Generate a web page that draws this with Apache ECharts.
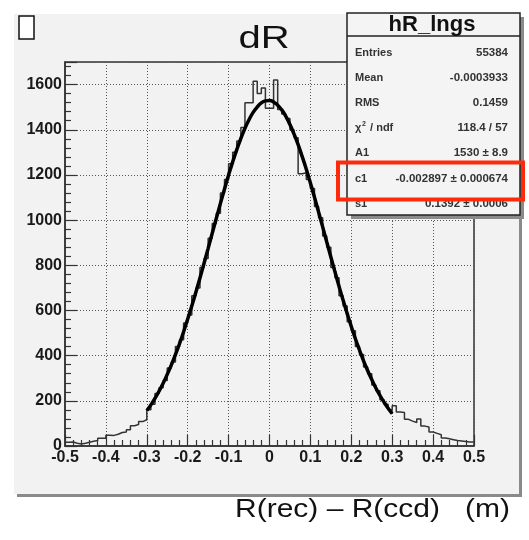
<!DOCTYPE html>
<html><head><meta charset="utf-8">
<script src="https://cdn.jsdelivr.net/npm/echarts@6/dist/echarts.min.js"></script>
<style>html,body{margin:0;padding:0;background:#fff}#c{width:529px;height:540px}</style>
</head><body><div id="c"></div>
<script>
// histogram: 100 bins of width 0.01 from -0.5 to 0.5
const histStart = -0.5;
const binWidth = 0.01;
const counts = [
  17,18,12,9,12,17,21,24,34,34,48,47,52,60,62,72,90,95,108,116,
  160,185,232,258,290,345,372,440,470,545,580,665,700,790,830,920,985,1030,1120,1180,1250,1300,1350,1410,
  1520,1520,1615,1560,1585,1495,1495,1620,1490,1470,1450,1400,1365,
  1205,1210,1180,1140,1060,1010,930,880,790,745,665,620,550,510,440,405,350,320,270,245,205,185,160,
  178,150,148,118,110,104,120,88,84,62,56,50,35,32,28,24,22,20,18,18
];
// gaussian fit curve, read at x = -0.30, -0.29, ... 0.30
const fitStart = -0.3;
const fitStep = 0.01;
const fitY = [157,182,211,243,278,317,359,404,453,506,562,620,681,744,809,875,942,1008,1074,1138,
  1200,1258,1312,1362,1407,1445,1477,1501,1519,1528,1530,1523,1509,1488,1459,1423,1381,1334,1281,1225,
  1164,1101,1036,970,903,837,771,707,645,586,529,475,425,377,334,294,257,224,194,167,143];
const xTickLabels = ['-0.5','-0.4','-0.3','-0.2','-0.1','0','0.1','0.2','0.3','0.4','0.5'];
const yTickLabels = ['0','200','400','600','800','1000','1200','1400','1600'];
const statLabels = ['Entries','Mean','RMS','χ² / ndf','A1','c1','s1'];
const statValues = ['55384','-0.0003933','0.1459','118.4 / 57','1530 ± 8.9','-0.002897 ± 0.000674','0.1392 ± 0.0006'];

const histData = counts.map((v,i)=>[histStart + i*binWidth, v]);
histData.push([histStart + counts.length*binWidth, counts[counts.length-1]]);
const fitData = fitY.map((v,i)=>[fitStart + i*fitStep, v]);

const chart = echarts.init(document.getElementById('c'));
const FONT = '"Liberation Sans", Arial, sans-serif';
const rowY = [53,78,103,128,153,179,204];
const statEls = [];
statLabels.forEach((l,i)=>{
  if (l.indexOf('χ') === 0) {
    statEls.push({type:'text', z:102, x:355, y:rowY[i], style:{text:'χ', fontFamily:FONT, fontSize:11, fontWeight:'bold', fill:'#333', textVerticalAlign:'middle'}});
    statEls.push({type:'text', z:102, x:362, y:rowY[i]-4, style:{text:'2', fontFamily:FONT, fontSize:7, fontWeight:'bold', fill:'#333', textVerticalAlign:'middle'}});
    statEls.push({type:'text', z:102, x:367, y:rowY[i], style:{text:' / ndf', fontFamily:FONT, fontSize:11, fontWeight:'bold', fill:'#333', textVerticalAlign:'middle'}});
  } else {
    statEls.push({type:'text', z:102, x:355, y:rowY[i], style:{text:l, fontFamily:FONT, fontSize:11, fontWeight:'bold', fill:'#333', textVerticalAlign:'middle'}});
  }
  statEls.push({type:'text', z:102, x:508, y:rowY[i], style:{text:statValues[i], fontFamily:FONT, fontSize:11.5, fontWeight:'bold', fill:'#333', textAlign:'right', textVerticalAlign:'middle'}});
});

chart.setOption({
  animation:false,
  backgroundColor:'#ffffff',
  grid:{left:65, right:55, top:62, bottom:94, show:true, borderColor:'#333', borderWidth:1.5, backgroundColor:'transparent'},
  xAxis:{type:'value', min:-0.5, max:0.5, interval:0.1,
    axisLine:{show:true, onZero:false, lineStyle:{color:'#333', width:1.5}},
    axisTick:{show:true, inside:true, length:11, lineStyle:{color:'#333', width:1.2}},
    minorTick:{show:true, splitNumber:5, length:6, lineStyle:{color:'#333', width:1.2}},
    splitLine:{show:true, lineStyle:{color:'#555', type:[1,2], width:1}},
    axisLabel:{margin:4, color:'#1a1a1a', fontFamily:FONT, fontWeight:'bold', fontSize:16,
      formatter:v=>xTickLabels[Math.round((v+0.5)*10)] || ''}
  },
  yAxis:{type:'value', min:0, max:1700, interval:200,
    axisLine:{show:true, onZero:false, lineStyle:{color:'#333', width:1.5}},
    axisTick:{show:true, inside:true, length:12, lineStyle:{color:'#333', width:1.2}},
    minorTick:{show:true, splitNumber:5, length:6, lineStyle:{color:'#333', width:1.2}},
    splitLine:{show:true, lineStyle:{color:'#555', type:[1,2], width:1}},
    axisLabel:{margin:3, color:'#1a1a1a', fontFamily:FONT, fontWeight:'bold', fontSize:16, showMaxLabel:false,
      formatter:v=>{const k=Math.round(v/200); return (v%200===0 && yTickLabels[k]) ? yTickLabels[k] : '';}}
  },
  series:[
    {type:'line', data:histData, step:'end', showSymbol:false, symbol:'none', z:3,
      lineStyle:{color:'#333', width:1.5}},
    {type:'line', data:fitData, smooth:true, showSymbol:false, symbol:'none', z:4,
      lineStyle:{color:'#000', width:3.5}}
  ],
  graphic:[
    {type:'rect', z:-20, shape:{x:17, y:17, width:505, height:480}, style:{fill:'#8a8a8a'}},
    {type:'rect', z:-19, shape:{x:14, y:14, width:505, height:480}, style:{fill:'#f2f2f2'}},
    {type:'rect', z:-18, shape:{x:19, y:16, width:15, height:23}, style:{fill:'#fff', stroke:'#111', lineWidth:1.5}},
    {type:'text', z:10, x:264, y:39, scaleX:1.25, style:{text:'dR', fontFamily:FONT, fontSize:32, fill:'#111', textAlign:'center', textVerticalAlign:'middle'}},
    {type:'text', z:10, x:510, y:510, scaleX:1.2, style:{text:'R(rec) – R(ccd)   (m)', fontFamily:FONT, fontSize:25, fill:'#111', textAlign:'right', textVerticalAlign:'middle'}},
    {type:'rect', z:100, shape:{x:351, y:17, width:173, height:202}, style:{fill:'#8a8a8a'}},
    {type:'rect', z:101, shape:{x:347, y:13, width:173, height:202}, style:{fill:'#f4f4f4', stroke:'#222', lineWidth:1.5}},
    {type:'line', z:102, shape:{x1:347, y1:36, x2:520, y2:36}, style:{stroke:'#222', lineWidth:1.5}},
    {type:'text', z:102, x:432, y:25, style:{text:'hR_lngs', fontFamily:FONT, fontSize:22, fontWeight:'bold', fill:'#111', textAlign:'center', textVerticalAlign:'middle'}},
    ...statEls,
    {type:'rect', z:110, shape:{x:338, y:162.5, width:185, height:37}, style:{fill:'none', stroke:'#ff2a0a', lineWidth:4}}
  ]
});
</script></body></html>
